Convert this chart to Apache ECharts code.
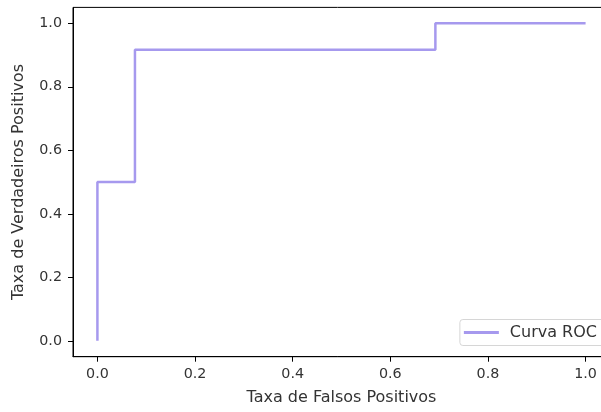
<!DOCTYPE html>
<html>
<head>
<meta charset="utf-8">
<script src="https://cdn.jsdelivr.net/npm/echarts@6/dist/echarts.min.js"></script>
<style>html,body{margin:0;padding:0;background:#fff}#c{width:601px;height:412px}</style>
</head>
<body>
<div id="c"></div>
<script>
const fpr = [0, 0, 0.0769, 0.0769, 0.6923, 0.6923, 1.0];
const tpr = [0, 0.5, 0.5, 0.9167, 0.9167, 1.0, 1.0];
const xTicks = [0, 0.2, 0.4, 0.6, 0.8, 1.0];
const yTicks = [0, 0.2, 0.4, 0.6, 0.8, 1.0];
const seriesName = 'Curva ROC';
const xLabel = 'Taxa de Falsos Positivos';
const yLabel = 'Taxa de Verdadeiros Positivos';

const chart = echarts.init(document.getElementById('c'));
const font = 'DejaVu Sans';
const txt = '#333';
const axisCommon = {
  type: 'value',
  min: -0.05, max: 1.05,
  splitLine: {show: false},
  axisLine: {show: true, onZero: false, lineStyle: {color: '#000', width: 1}},
  axisTick: {show: true, inside: false, length: 5, lineStyle: {color: '#000', width: 1}},
  nameLocation: 'middle',
  nameTextStyle: {fontFamily: font, fontSize: 16, color: txt}
};
const lineColor = '#a699ee';
chart.setOption({
  animation: false,
  grid: {left: 73, top: 7.4, width: 537, height: 349.3, show: true, borderColor: '#000', borderWidth: 1,
         outerBoundsMode: 'none', containLabel: false},
  xAxis: Object.assign({}, axisCommon, {
    name: xLabel, nameGap: 33,
    axisTick: Object.assign({}, axisCommon.axisTick, {customValues: xTicks}),
    axisLabel: {customValues: xTicks, fontFamily: font, fontSize: 14.3, color: txt, margin: 11, formatter: v => v.toFixed(1)}
  }),
  yAxis: Object.assign({}, axisCommon, {
    name: yLabel, nameGap: 46,
    nameTextStyle: Object.assign({}, axisCommon.nameTextStyle, {padding: [0, 0, 0, 0]}),
    axisTick: Object.assign({}, axisCommon.axisTick, {customValues: yTicks}),
    axisLabel: {customValues: yTicks, fontFamily: font, fontSize: 14.3, color: txt, margin: 11, formatter: v => v.toFixed(1)}
  }),
  legend: {
    right: -14, top: 319.5,
    orient: 'vertical',
    padding: [5, 18, 5, 4],
    borderColor: '#d6d6d6', borderWidth: 1, borderRadius: 3,
    backgroundColor: '#fff',
    itemWidth: 35, itemHeight: 3, itemGap: 10,
    icon: 'rect',
    textStyle: {fontFamily: font, fontSize: 16, color: txt, padding: [0, 0, 0, 6]},
    data: [seriesName]
  },
  series: [{
    name: seriesName,
    type: 'line',
    data: fpr.map((x, i) => [x, tpr[i]]),
    showSymbol: false,
    lineStyle: {color: lineColor, width: 2.5},
    itemStyle: {color: lineColor}
  }]
});
</script>
</body>
</html>
